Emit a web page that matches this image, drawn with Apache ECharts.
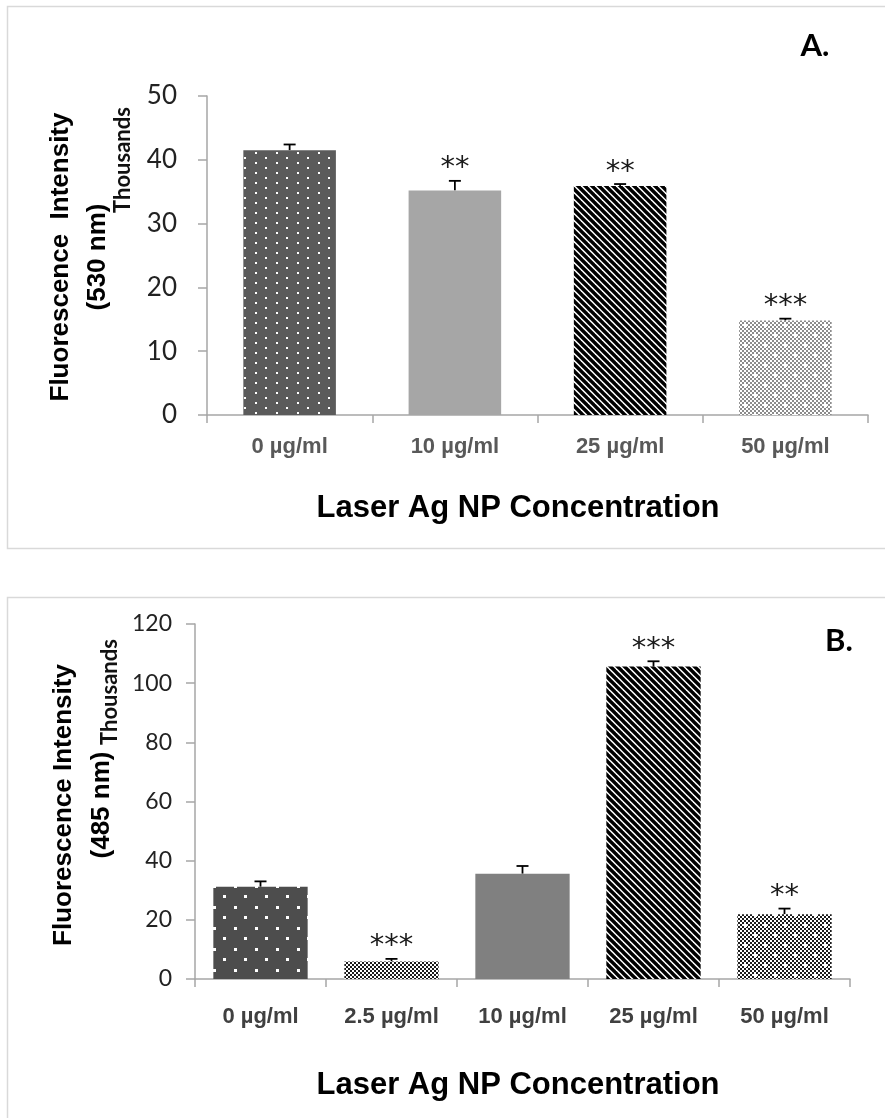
<!DOCTYPE html>
<html>
<head>
<meta charset="utf-8">
<title>Laser Ag NP fluorescence</title>
<script src="https://cdn.jsdelivr.net/npm/echarts/dist/echarts.min.js"></script>
<style>
  html, body { margin: 0; padding: 0; background: #fff; }
  #chart { width: 885px; height: 1118px; }
</style>
</head>
<body>
<div id="chart"></div>
<script>
// panel A (530 nm)
var catsA  = ['0 µg/ml', '10 µg/ml', '25 µg/ml', '50 µg/ml'];
var valsA  = [41.5, 35.2, 35.9, 14.8];
var errA   = [0.9, 1.5, 0.3, 0.3];
var starsA = ['', '**', '**', '***'];
var ticksA = [0, 10, 20, 30, 40, 50];

// panel B (485 nm)
var catsB  = ['0 µg/ml', '2.5 µg/ml', '10 µg/ml', '25 µg/ml', '50 µg/ml'];
var valsB  = [31.2, 5.9, 35.6, 105.6, 21.9];
var errB   = [1.8, 0.9, 2.6, 1.8, 1.9];
var starsB = ['', '***', '', '***', '**'];
var ticksB = [0, 20, 40, 60, 80, 100, 120];

// fill patterns, drawn on small canvases
function tile(w, h, draw) {
    var c = document.createElement('canvas');
    c.width = w; c.height = h;
    draw(c.getContext('2d'), w, h);
    return { image: c, repeat: 'repeat' };
}

function dots(bg, w, h, pts, sz) {
    return tile(w, h, function (ctx) {
        ctx.fillStyle = bg;
        ctx.fillRect(0, 0, w, h);
        ctx.fillStyle = '#fff';
        pts.forEach(function (p) { ctx.fillRect(p[0], p[1], sz, sz); });
    });
}

function stripes(period, lw) {
    return tile(period, period, function (ctx, w, h) {
        ctx.fillStyle = '#fff';
        ctx.fillRect(0, 0, w, h);
        ctx.strokeStyle = '#000';
        ctx.lineWidth = lw;
        for (var k = -1; k <= 1; k++) {
            ctx.beginPath();
            ctx.moveTo(k * w - 2, -2);
            ctx.lineTo(k * w + w + 2, h + 2);
            ctx.stroke();
        }
    });
}

function checker(dark, spots) {
    return tile(20, 20, function (ctx, w, h) {
        ctx.fillStyle = '#fff';
        ctx.fillRect(0, 0, w, h);
        ctx.fillStyle = dark;
        for (var y = 0; y < h; y += 2)
            for (var x = 0; x < w; x += 2)
                if (((x + y) / 2) % 2 === 0) ctx.fillRect(x, y, 2, 2);
        if (spots) {
            ctx.fillStyle = '#fff';
            ctx.fillRect(4, 4, 3, 3);
            ctx.fillRect(14, 14, 3, 3);
        }
    });
}

var fillA = [
    dots('#5b5b5b', 21, 10, [[3, 2], [13, 7]], 2),
    '#a6a6a6',
    stripes(7, 3.4),
    checker('#8c8c8c', true)
];
var fillB = [
    dots('#4d4d4d', 21, 21, [[3, 3], [13, 13]], 3),
    checker('#1c1c1c', false),
    '#808080',
    stripes(7, 3.4),
    checker('#1c1c1c', true)
];

function barData(vals, fills) {
    return vals.map(function (v, i) {
        return { value: v, itemStyle: { color: fills[i] } };
    });
}

// error bar (upward only) with significance stars above it
function errSeries(xi, vals, errs, stars) {
    return {
        type: 'custom',
        xAxisIndex: xi, yAxisIndex: xi,
        clip: false,
        silent: true,
        data: vals.map(function (v, i) { return [i, v, errs[i]]; }),
        renderItem: function (params, api) {
            var i = api.value(0), v = api.value(1), e = api.value(2);
            var b = api.coord([i, v]);
            var t = api.coord([i, v + e]);
            var kids = [
                { type: 'line', shape: { x1: b[0], y1: b[1], x2: t[0], y2: t[1] },
                  style: { stroke: '#000', lineWidth: 1.8 } },
                { type: 'line', shape: { x1: t[0] - 6, y1: t[1], x2: t[0] + 6, y2: t[1] },
                  style: { stroke: '#000', lineWidth: 1.8 } }
            ];
            if (stars[i]) {
                kids.push({ type: 'text', style: {
                    text: stars[i], x: t[0], y: t[1] - 12,
                    align: 'center', verticalAlign: 'middle',
                    font: '29px "DejaVu Sans"', fill: '#1a1a1a'
                } });
            }
            return { type: 'group', children: kids };
        }
    };
}

var axisGray = '#a6a6a6';

function catAxis(gi, cats, margin, color) {
    return {
        type: 'category', gridIndex: gi, data: cats,
        axisLine: { lineStyle: { color: axisGray, width: 1.5 } },
        axisTick: { show: true, length: 8, lineStyle: { color: axisGray, width: 1.5 } },
        axisLabel: { margin: margin, color: color, fontFamily: 'Liberation Sans',
                     fontWeight: 'bold', fontSize: 22 },
        splitLine: { show: false }
    };
}

function valAxis(gi, ticks, fontSize, margin) {
    return {
        type: 'value', gridIndex: gi,
        min: ticks[0], max: ticks[ticks.length - 1], interval: ticks[1] - ticks[0],
        axisLine: { show: true, lineStyle: { color: axisGray, width: 1.5 } },
        axisTick: { show: true, length: 9, lineStyle: { color: axisGray, width: 1.5 } },
        axisLabel: { margin: margin, color: '#222', fontFamily: 'Lato', fontSize: fontSize },
        splitLine: { show: false }
    };
}

var chart = echarts.init(document.getElementById('chart'), null, { renderer: 'canvas' });

chart.setOption({
    backgroundColor: '#fff',
    animation: false,
    grid: [
        { left: 207, top: 96, width: 661, height: 319 },
        { left: 195, top: 624, width: 655, height: 355 }
    ],
    xAxis: [catAxis(0, catsA, 21, '#595959'), catAxis(1, catsB, 27, '#404040')],
    yAxis: [valAxis(0, ticksA, 26, 30), valAxis(1, ticksB, 23, 23)],
    series: [
        { type: 'bar', xAxisIndex: 0, yAxisIndex: 0, barCategoryGap: '44%',
          data: barData(valsA, fillA) },
        errSeries(0, valsA, errA, starsA),
        { type: 'bar', xAxisIndex: 1, yAxisIndex: 1, barCategoryGap: '28%',
          data: barData(valsB, fillB) },
        errSeries(1, valsB, errB, starsB)
    ],
    graphic: [
        // panel frames
        { type: 'rect', shape: { x: 7.5, y: 6.5, width: 900, height: 542 },
          style: { fill: 'none', stroke: '#d9d9d9', lineWidth: 1.5 }, silent: true },
        { type: 'rect', shape: { x: 7.5, y: 597.5, width: 900, height: 540 },
          style: { fill: 'none', stroke: '#d9d9d9', lineWidth: 1.5 }, silent: true },
        // panel letters
        { type: 'text', x: 815, y: 46, style: { text: 'A.', align: 'center', verticalAlign: 'middle',
          font: 'bold 31px Lato', fill: '#000' } },
        { type: 'text', x: 839, y: 641, style: { text: 'B.', align: 'center', verticalAlign: 'middle',
          font: 'bold 31px Lato', fill: '#000' } },
        // "Thousands" unit labels
        { type: 'text', x: 123, y: 160, rotation: Math.PI / 2,
          style: { text: 'Thousands', align: 'center', verticalAlign: 'middle',
          font: 'bold 22px Lato', fill: '#111' } },
        { type: 'text', x: 110, y: 692, rotation: Math.PI / 2,
          style: { text: 'Thousands', align: 'center', verticalAlign: 'middle',
          font: 'bold 22px Lato', fill: '#111' } },
        // y axis titles
        { type: 'text', x: 79, y: 257, rotation: Math.PI / 2,
          style: { text: 'Fluorescence  Intensity\n(530 nm)', align: 'center', verticalAlign: 'middle',
          font: 'bold 26px "Liberation Sans"', lineHeight: 37, fill: '#000' } },
        { type: 'text', x: 83, y: 805, rotation: Math.PI / 2,
          style: { text: 'Fluorescence Intensity\n(485 nm)', align: 'center', verticalAlign: 'middle',
          font: 'bold 26px "Liberation Sans"', lineHeight: 38, fill: '#000' } },
        // x axis titles
        { type: 'text', x: 518, y: 508, style: { text: 'Laser Ag NP Concentration', align: 'center',
          verticalAlign: 'middle', font: 'bold 31px "Liberation Sans"', fill: '#000' } },
        { type: 'text', x: 518, y: 1085, style: { text: 'Laser Ag NP Concentration', align: 'center',
          verticalAlign: 'middle', font: 'bold 31px "Liberation Sans"', fill: '#000' } }
    ]
});
</script>
</body>
</html>
